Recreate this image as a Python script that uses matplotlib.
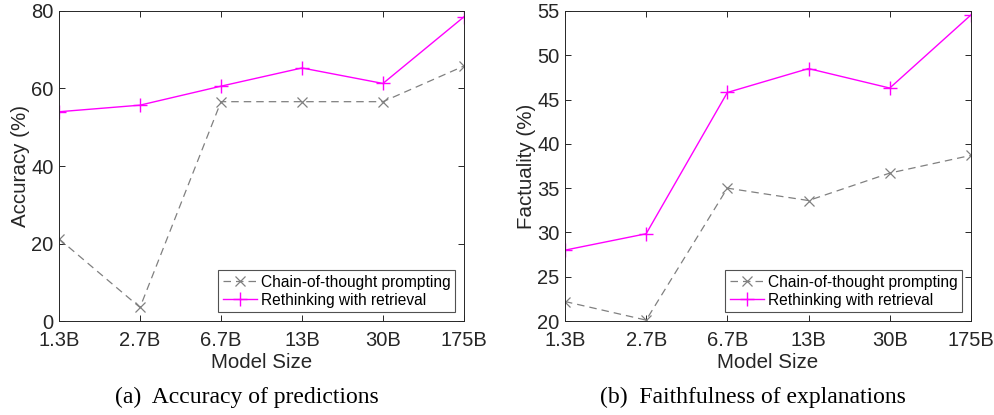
import matplotlib
matplotlib.use('Agg')
import matplotlib.pyplot as plt

# данные
sizes = ['1.3B', '2.7B', '6.7B', '13B', '30B', '175B']
acc_cot = [21.2, 3.5, 56.6, 56.6, 56.6, 65.8]
acc_rr = [54.0, 55.7, 60.6, 65.3, 61.3, 78.5]
fact_cot = [22.2, 20.1, 35.0, 33.6, 36.7, 38.7]
fact_rr = [28.0, 29.85, 45.8, 48.5, 46.3, 54.55]

gray = '#808080'
magenta = '#ff00ff'
axcol = '#262626'

plt.rcParams['font.family'] = ['Liberation Sans', 'DejaVu Sans']

fig = plt.figure(figsize=(9.95, 4.15), dpi=100)
ax1 = fig.add_axes([0.0593, 0.2265, 0.407, 0.747])
ax2 = fig.add_axes([0.5678, 0.2265, 0.408, 0.747])

x = list(range(len(sizes)))


def draw(ax, cot, rr, ylim, yticks, ylabel):
    ax.plot(x, cot, color=gray, linestyle=(0, (6, 4)), linewidth=0.9,
            marker='x', markersize=7, markeredgewidth=0.9,
            label='Chain-of-thought prompting')
    ax.plot(x, rr, color=magenta, linestyle='-', linewidth=1.0,
            marker='+', markersize=10, markeredgewidth=1.0,
            label='Rethinking with retrieval')
    ax.set_xlim(0, len(sizes) - 1)
    ax.set_ylim(*ylim)
    ax.set_xticks(x)
    ax.set_xticklabels(sizes)
    ax.set_yticks(yticks)
    ax.set_xlabel('Model Size', fontsize=14.8, color=axcol, labelpad=2)
    ax.set_ylabel(ylabel, fontsize=14.8, color=axcol, labelpad=1)
    ax.tick_params(direction='in', top=True, right=True, length=4,
                   width=0.7, colors=axcol, labelsize=14.5)
    ax.tick_params(axis='x', pad=7)
    ax.tick_params(axis='y', pad=4)
    for s in ax.spines.values():
        s.set_color(axcol)
        s.set_linewidth(0.7)
    leg = ax.legend(loc='lower right', fontsize=11.2, frameon=True,
                    fancybox=False, edgecolor=axcol, borderpad=0.3,
                    handlelength=2.2, handletextpad=0.25, labelspacing=0.2,
                    borderaxespad=0.55)
    leg.get_frame().set_linewidth(0.8)


draw(ax1, acc_cot, acc_rr, (0, 80), [0, 20, 40, 60, 80], 'Accuracy (%)')
draw(ax2, fact_cot, fact_rr, (20, 55), [20, 25, 30, 35, 40, 45, 50, 55],
     'Factuality (%)')

fig.text(0.248, 0.028, '(a)  Accuracy of predictions', ha='center',
         family=['Liberation Serif', 'DejaVu Serif'], fontsize=17)
fig.text(0.757, 0.028, '(b)  Faithfulness of explanations', ha='center',
         family=['Liberation Serif', 'DejaVu Serif'], fontsize=17)

fig.savefig('out.png', dpi=100)
